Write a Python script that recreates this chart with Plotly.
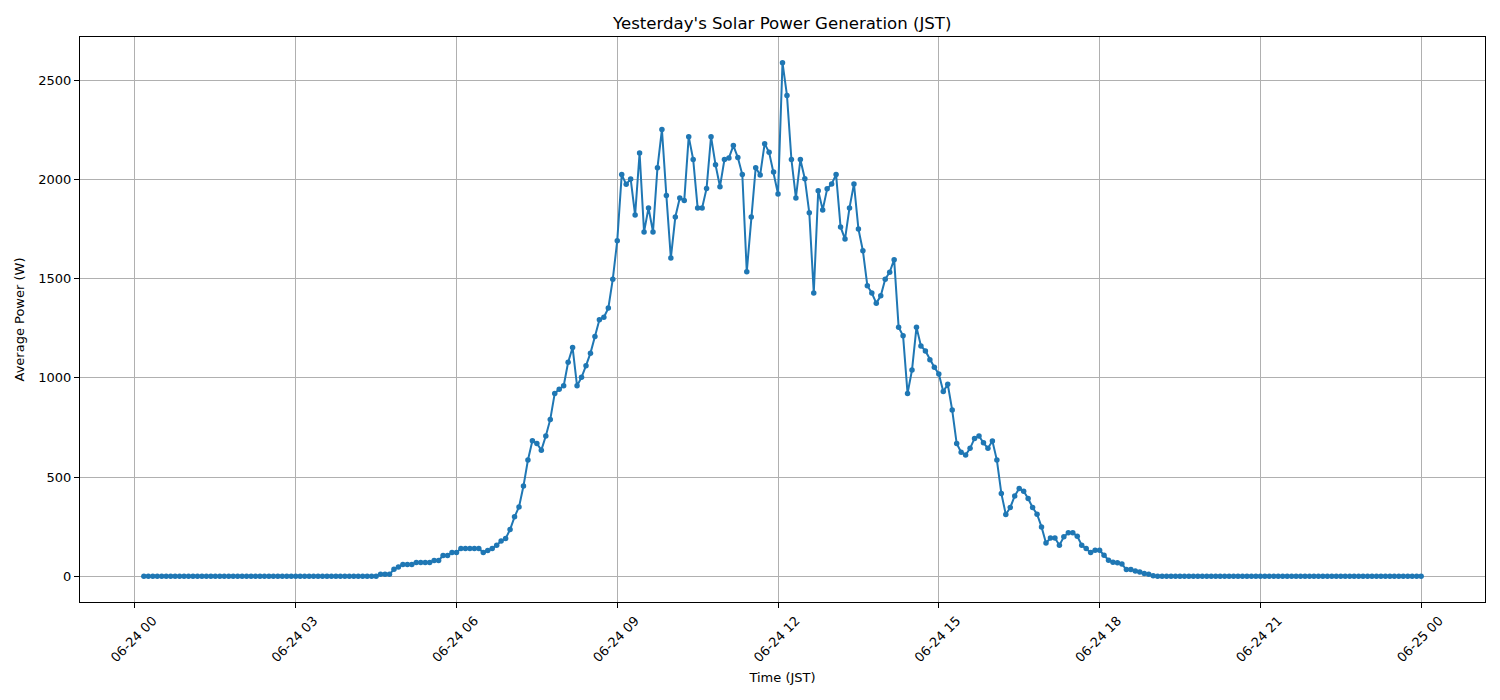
import pandas as pd
import plotly.graph_objects as go

# Timestamps: 5-minute averages from 06-24 00:10 to 06-25 00:00 (JST)
start_time = "2024-06-24 00:10"
end_time = "2024-06-25 00:00"
times = pd.date_range(start_time, end_time, freq="5min")

# Average power (W)
power = [
    0, 0, 0, 0, 0, 0, 0, 0, 0, 0, 0, 0,
    0, 0, 0, 0, 0, 0, 0, 0, 0, 0, 0, 0,
    0, 0, 0, 0, 0, 0, 0, 0, 0, 0, 0, 0,
    0, 0, 0, 0, 0, 0, 0, 0, 0, 0, 0, 0,
    0, 0, 0, 0, 0, 10, 10, 10, 35, 47, 60, 60,
    60, 70, 70, 70, 70, 80, 80, 105, 105, 120, 120, 140,
    140, 140, 140, 140, 120, 130, 140, 157, 178, 190, 236, 300,
    350, 455, 586, 683, 670, 636, 707, 791, 922, 943, 960, 1079,
    1153, 960, 1003, 1062, 1125, 1209, 1293, 1306, 1352, 1498, 1692, 2025,
    1976, 2003, 1821, 2134, 1736, 1857, 1736, 2059, 2252, 1919, 1604, 1811,
    1907, 1894, 2216, 2101, 1857, 1857, 1955, 2216, 2075, 1964, 2101, 2109,
    2171, 2111, 2025, 1535, 1811, 2060, 2023, 2181, 2137, 2038, 1927, 2589,
    2424, 2101, 1907, 2101, 2004, 1832, 1428, 1944, 1847, 1953, 1978, 2025,
    1761, 1700, 1857, 1978, 1751, 1641, 1465, 1428, 1377, 1414, 1498, 1533,
    1596, 1256, 1212, 922, 1040, 1256, 1161, 1136, 1091, 1054, 1020, 931,
    968, 838, 670, 625, 611, 645, 695, 707, 673, 645, 682, 586,
    418, 312, 347, 405, 443, 429, 392, 347, 313, 249, 168, 193,
    193, 157, 199, 219, 219, 202, 157, 140, 120, 131, 131, 106,
    81, 71, 69, 62, 34, 34, 27, 22, 14, 10, 3, 0,
    0, 0, 0, 0, 0, 0, 0, 0, 0, 0, 0, 0,
    0, 0, 0, 0, 0, 0, 0, 0, 0, 0, 0, 0,
    0, 0, 0, 0, 0, 0, 0, 0, 0, 0, 0, 0,
    0, 0, 0, 0, 0, 0, 0, 0, 0, 0, 0, 0,
    0, 0, 0, 0, 0, 0, 0, 0, 0, 0, 0,
]

x_tick_values = pd.date_range("2024-06-24 00:00", "2024-06-25 00:00", freq="3h")
x_tick_labels = [t.strftime("%m-%d %H") for t in x_tick_values]
y_tick_values = [0, 500, 1000, 1500, 2000, 2500]

title_text = "Yesterday's Solar Power Generation (JST)"
x_title = "Time (JST)"
y_title = "Average Power (W)"

color = "#1f77b4"
font_family = "DejaVu Sans"

fig = go.Figure()
fig.add_trace(go.Scatter(
    x=times, y=power, mode="lines+markers",
    line=dict(color=color, width=2),
    marker=dict(color=color, size=5.5),
    showlegend=False,
))

# matplotlib-like 5% margins
span = times[-1] - times[0]
x_range = [times[0] - span * 0.05, times[-1] + span * 0.05]
ymax = max(power)
y_range = [-ymax * 0.05, ymax * 1.05]

axis_common = dict(
    showline=True, linecolor="black", linewidth=1, mirror=True,
    ticks="outside", ticklen=5, tickwidth=1, tickcolor="black",
    showgrid=True, gridcolor="#b0b0b0", gridwidth=1,
    zeroline=False,
    tickfont=dict(family=font_family, size=13, color="black"),
)

fig.update_layout(
    width=1500, height=700,
    margin=dict(l=80, r=15, t=37, b=98),
    paper_bgcolor="white", plot_bgcolor="white",
    font=dict(family=font_family, color="black"),
    title=dict(text=title_text, x=0.5215, xanchor="center",
               y=1 - 23 / 700, yanchor="middle", yref="container",
               font=dict(family=font_family, size=16.6, color="black")),
    xaxis=dict(
        **axis_common, range=x_range,
        tickmode="array", tickvals=list(x_tick_values), ticktext=x_tick_labels,
        tickangle=-45, ticklabelshift=18,
        title=dict(text=x_title, standoff=8,
                   font=dict(family=font_family, size=13, color="black")),
    ),
    yaxis=dict(
        **axis_common, range=y_range,
        tickmode="array", tickvals=y_tick_values,
        title=dict(text=y_title, standoff=10,
                   font=dict(family=font_family, size=13, color="black")),
    ),
)

fig.write_html("out.html")
